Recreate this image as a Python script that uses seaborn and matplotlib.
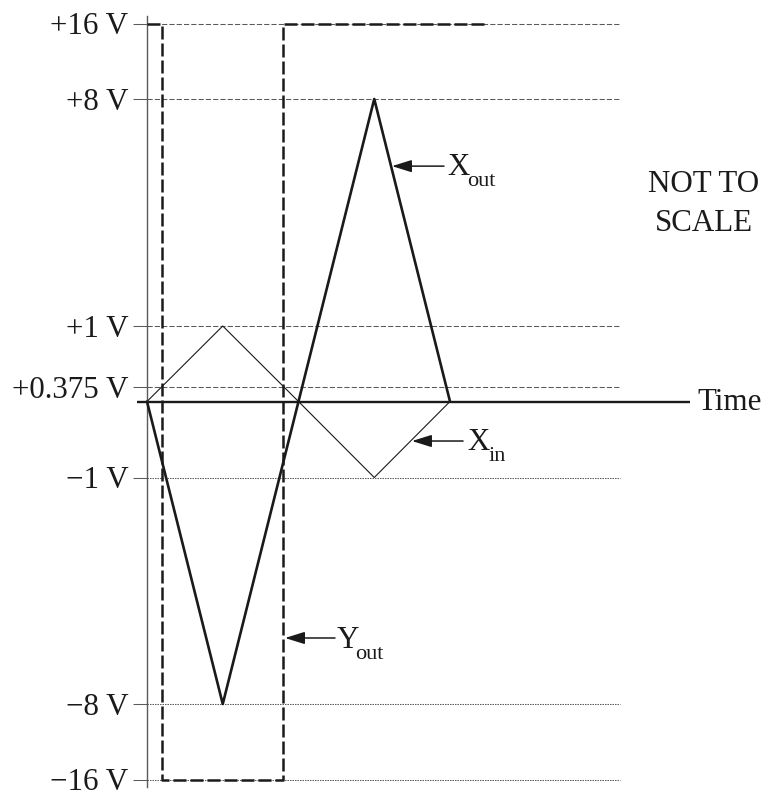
import numpy as np
import pandas as pd
import matplotlib
matplotlib.use("Agg")
import matplotlib.pyplot as plt
import matplotlib.transforms as mtransforms
import seaborn as sns

# Waveforms: time in arbitrary units, amplitude in volts
t_in = [0, 1, 2, 3, 4]
x_in = [0, 1, 0, -1, 0]
t_out = [0, 1, 3, 4]
x_out = [0, -8, 8, 0]
t_y = [0, 0.2, 0.2, 1.8, 1.8, 4.46]
y_out = [16, 16, -16, -16, 16, 16]

# Reference voltage levels shown on the vertical axis
levels = [-16, -8, -1, 0.375, 1, 8, 16]
level_labels = ["\u221216 V", "\u22128 V", "\u22121 V", "+0.375 V", "+1 V", "+8 V", "+16 V"]
pos_levels = [0.375, 1, 8, 16]
neg_levels = [-1, -8, -16]

# The diagram is not to scale: each voltage level gets its own height
scale_volts = [-40, -16, -8, -1, 0, 0.375, 1, 8, 16, 40]
scale_pos = [-604.5, -378, -302.5, -76, 0, 14.8, 75.5, 302.5, 378, 604.5]


def forward(v):
    return np.interp(v, scale_volts, scale_pos)


def inverse(p):
    return np.interp(p, scale_pos, scale_volts)


sns.set_theme(style="white")
plt.rcParams["font.family"] = ["Liberation Serif", "DejaVu Serif"]

FS = 22.3
SUB_FS = 16.0
ink = "#1a1a1a"
grey = "#5a5a5a"

fig = plt.figure(figsize=(7.63, 7.92), dpi=100)
fig.patch.set_facecolor("white")
ax = fig.add_axes([0, 0, 1, 1])
ax.set_facecolor("white")

df_in = pd.DataFrame({"t": t_in, "v": x_in})
df_out = pd.DataFrame({"t": t_out, "v": x_out})
df_y = pd.DataFrame({"t": t_y, "v": y_out})

# guide lines for each level
grid_end = 6.244
ax.hlines(pos_levels, 0, grid_end, colors=grey, lw=0.75,
          linestyles=(0, (5, 2)), zorder=1)
ax.hlines(neg_levels, 0, grid_end, colors=grey, lw=0.75,
          linestyles=(0, (1.4, 1.0)), zorder=1)

sns.lineplot(data=df_in, x="t", y="v", sort=False, estimator=None,
             color=ink, lw=0.8, ax=ax, zorder=3)
sns.lineplot(data=df_out, x="t", y="v", sort=False, estimator=None,
             color=ink, lw=1.9, ax=ax, zorder=4)
sns.lineplot(data=df_y, x="t", y="v", sort=False, estimator=None,
             color=ink, lw=1.8, ax=ax, zorder=4,
             dashes=False, linestyle=(0, (5.2, 1.6)))

# time axis
ax.hlines(0, -0.132, 7.168, colors=ink, lw=1.7, zorder=2)
ax.text(7.26, -0.112, "Time", fontsize=FS, ha="left", va="baseline", color=ink)

ax.set_yscale("function", functions=(forward, inverse))
ax.set_xlim(-147 / 75.75, (763 - 147) / 75.75)
ax.set_ylim(inverse(-390.5), inverse(401.5))

# vertical axis with outward ticks
for side in ["top", "right", "bottom"]:
    ax.spines[side].set_visible(False)
ax.spines["left"].set_position(("data", 0))
ax.spines["left"].set_bounds(inverse(-385.5), inverse(385.5))
ax.spines["left"].set_color(grey)
ax.spines["left"].set_linewidth(1.0)
ax.spines["left"].set_zorder(2)
ax.set_xticks([])
ax.set_yticks(levels, level_labels)
ax.yaxis.set_minor_locator(matplotlib.ticker.NullLocator())
ax.tick_params(axis="y", direction="out", length=10.1, width=0.75,
               color=grey, pad=3.4, labelsize=FS, labelcolor=ink, left=True)
ax.set_xlabel("")
ax.set_ylabel("")
ax.grid(False)


def signal_label(x, y, main, sub, sub_dx):
    """Letter with a lowered subscript, anchored at its baseline."""
    ax.text(x, y, main, fontsize=FS, ha="left", va="baseline", color=ink)
    shifted = mtransforms.offset_copy(ax.transData, fig=fig, x=sub_dx, y=-11,
                                      units="dots")
    ax.text(x, y, sub, fontsize=SUB_FS, ha="left", va="baseline", color=ink,
            transform=shifted)


# labelled pointers
arrow_kw = dict(arrowstyle="-|>,head_length=0.8,head_width=0.25",
                mutation_scale=15, color=ink, lw=1.1, shrinkA=0, shrinkB=0)
ax.annotate("", xy=(3.234, 5.93), xytext=(3.921, 5.93), arrowprops=arrow_kw)
signal_label(3.96, 5.65, "X", "out", 20)
ax.annotate("", xy=(3.498, -0.52), xytext=(4.172, -0.52), arrowprops=arrow_kw)
signal_label(4.224, -0.638, "X", "in", 22)
ax.annotate("", xy=(1.822, -5.96), xytext=(2.482, -5.96), arrowprops=arrow_kw)
signal_label(2.508, -6.27, "Y", "out", 18)

ax.text(7.353, 5.13, "NOT TO", fontsize=FS, ha="center", va="baseline", color=ink)
ax.text(7.353, 3.93, "SCALE", fontsize=FS, ha="center", va="baseline", color=ink)

fig.savefig("out.png", dpi=100, facecolor="white")
